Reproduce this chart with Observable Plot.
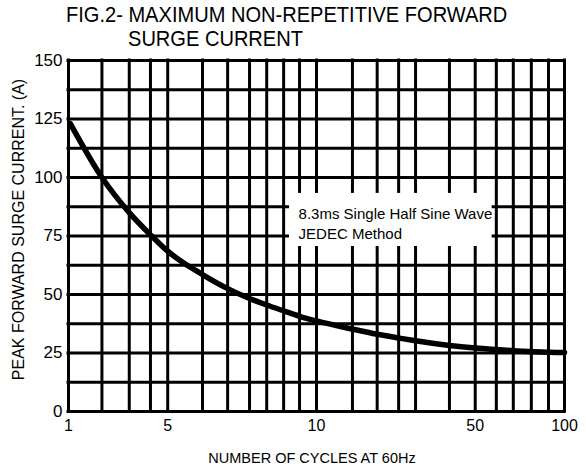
<!DOCTYPE html>
<html>
<head>
<meta charset="utf-8">
<script src="https://cdn.jsdelivr.net/npm/d3@7"></script>
<script src="https://cdn.jsdelivr.net/npm/@observablehq/plot@0.6"></script>
<style>
  html, body { margin: 0; padding: 0; background: #fff; }
  #wrap { position: relative; width: 585px; height: 470px; font-family: "Liberation Sans", Arial, sans-serif; color: #000; }
  #wrap svg { position: absolute; left: 0; top: 0; }
  .t { position: absolute; font-size: 21.5px; line-height: 21.5px; white-space: nowrap; transform: scaleX(0.933); transform-origin: 0 0; z-index: 2; }
</style>
</head>
<body>
<div id="wrap">
  <div class="t" style="left:66px; top:4.5px;">FIG.2- MAXIMUM NON-REPETITIVE FORWARD</div>
  <div class="t" style="left:128px; top:28.5px;">SURGE CURRENT</div>
</div>
<script>
// Number of cycles at which the vertical grid lines are drawn
const gridX = [1, 1.72, 2.68, 3.78, 5, 5.88, 6.61, 7.32, 7.93, 8.58, 9.24, 10,
               14.4, 18.5, 23.0, 27.3, 38.5, 50, 58.9, 67.2, 77.3, 88.3, 100];
// Horizontal grid lines (A)
const gridY = [0, 12.5, 25, 37.5, 50, 62.5, 75, 87.5, 100, 112.5, 125, 137.5, 150];
// Tick labels
const xTicks = [1, 5, 10, 50, 100];
const yTicks = [0, 25, 50, 75, 100, 125, 150];
// The printed axis is a distorted two-decade scale: where each labelled value sits (in decades)
const xAnchorValues = [1, 5, 10, 50, 100];
const xAnchorDecades = [0, 0.4, 1, 1.64, 2];
// Surge current curve
const cycles = [1.03, 1.72, 2.68, 3.78, 5, 5.88, 6.61, 7.32, 7.93, 8.58, 9.24, 10,
                14.4, 18.5, 23, 27.3, 38.5, 50, 67.2, 100];
const amps   = [123, 100, 85, 75.5, 68.5, 58.5, 52.5, 48.3, 45.5, 43, 40.7, 38.7,
                35.2, 33, 31.4, 30.2, 28.2, 27.1, 26, 25.2];
// Annotation
const noteText = ["8.3ms Single Half Sine Wave", "JEDEC Method"];
const noteBox = {x1: 8.82, x2: 57, y1: 70.5, y2: 93.2};
const noteAt = {x: 9.2, y: 80.6};
const xLabel = "NUMBER OF CYCLES AT 60Hz";
const yLabel = "PEAK FORWARD SURGE CURRENT. (A)";

const curve = cycles.map((c, i) => ({c, a: amps[i]}));
const warp = d3.scaleLog().domain(xAnchorValues).range(xAnchorDecades);

const chart = Plot.plot({
  width: 585,
  height: 470,
  marginLeft: 68,
  marginRight: 21,
  marginTop: 60,
  marginBottom: 59,
  style: {fontFamily: "'Liberation Sans', Arial, sans-serif", color: "#000", background: "transparent"},
  x: {type: "linear", transform: warp, domain: [0, 2]},
  y: {domain: [0, 150]},
  marks: [
    Plot.ruleX(gridX, {stroke: "#000", strokeWidth: 3, strokeLinecap: "square"}),
    Plot.ruleY(gridY, {stroke: "#000", strokeWidth: 3, strokeLinecap: "square"}),
    Plot.rect([noteBox], {x1: "x1", x2: "x2", y1: "y1", y2: "y2", fill: "#fff"}),
    Plot.line(curve, {x: "c", y: "a", stroke: "#000", strokeWidth: 5.5, curve: "monotone-x"}),
    Plot.text([noteAt], {x: "x", y: "y", text: () => noteText.join("\n"), textAnchor: "start",
      lineAnchor: "middle", lineHeight: 1.3, fontSize: 15, fill: "#000"}),
    Plot.axisX(xTicks, {tickSize: 0, tickPadding: 8, fontSize: 16, label: null, tickFormat: d => String(d)}),
    Plot.axisY(yTicks, {tickSize: 0, tickPadding: 6, fontSize: 17, label: null, tickFormat: d => String(d)}),
    Plot.text([yLabel], {frameAnchor: "left", textAnchor: "middle", rotate: -90, dx: -50, dy: -6.5, fontSize: 16, fill: "#000"}),
    Plot.text([xLabel], {frameAnchor: "bottom", textAnchor: "middle", dx: -4.5, dy: 46.5, fontSize: 14.5, lineAnchor: "middle", fill: "#000"})
  ]
});
document.getElementById("wrap").appendChild(chart);
</script>
</body>
</html>
